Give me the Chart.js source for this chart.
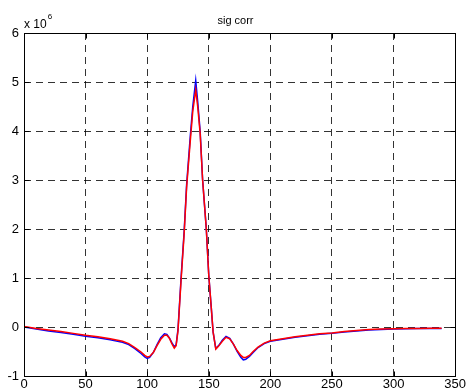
<!DOCTYPE html>
<html>
<head>
<meta charset="utf-8">
<script src="https://cdn.jsdelivr.net/npm/chart.js@4"></script>
<style>
  body { margin: 0; background: #fff; }
</style>
</head>
<body>
<canvas id="sigChart" width="467" height="390"></canvas>
<script>
// sample positions (lag) and the two correlation curves, in units of 1e6
const xValues = [0, 10, 20, 30, 40, 50, 60, 70, 80, 85, 90, 95, 98, 100, 102, 105, 108, 111, 114, 116, 118, 120, 122, 123.5,
  125, 127.5, 130, 132, 135, 137, 139.4, 141, 143, 145, 148, 150, 152, 153.5, 155.7, 158, 161, 164, 167, 170, 173, 176, 178,
  180, 183, 186, 190, 195, 200, 210, 220, 230, 240, 250, 260, 270, 280, 290, 300, 310, 320, 330, 339];
const blueValues = [0, -0.04, -0.08, -0.11, -0.15, -0.19, -0.22, -0.26, -0.31, -0.36, -0.44, -0.54, -0.61, -0.64, -0.62, -0.52, -0.36, -0.22, -0.14, -0.15, -0.22, -0.32, -0.40, -0.36,
  -0.05, 1.0, 1.95, 2.9, 3.9, 4.5, 5.03, 4.6, 4.0, 3.0, 2.0, 1.05, 0.4, -0.1, -0.44, -0.38, -0.27, -0.19, -0.23, -0.35, -0.5, -0.62, -0.67,
  -0.66, -0.6, -0.52, -0.42, -0.34, -0.29, -0.25, -0.21, -0.18, -0.15, -0.13, -0.10, -0.08, -0.06, -0.05, -0.04, -0.035, -0.03, -0.03, -0.03];
const redValues = [0.01, -0.03, -0.06, -0.09, -0.13, -0.17, -0.20, -0.24, -0.29, -0.34, -0.42, -0.51, -0.58, -0.61, -0.60, -0.52, -0.38, -0.25, -0.17, -0.17, -0.23, -0.34, -0.43, -0.38,
  -0.08, 0.95, 1.9, 2.85, 3.8, 4.4, 4.84, 4.5, 3.95, 3.0, 2.0, 1.05, 0.4, -0.1, -0.45, -0.39, -0.29, -0.21, -0.24, -0.35, -0.48, -0.58, -0.62,
  -0.62, -0.58, -0.5, -0.41, -0.33, -0.28, -0.24, -0.20, -0.17, -0.14, -0.12, -0.09, -0.07, -0.05, -0.04, -0.035, -0.03, -0.03, -0.025, -0.025];
const xTicks = [0, 50, 100, 150, 200, 250, 300, 350];
const yTicks = [-1, 0, 1, 2, 3, 4, 5, 6];

const fontFamily = 'Arial, "Liberation Sans", sans-serif';

function toPoints(ys) {
  return xValues.map((x, i) => ({ x: x, y: ys[i] }));
}

// box, inward ticks, title and the exponent label, matlab style
const matlabFrame = {
  id: 'matlabFrame',
  afterDraw(chart) {
    const { ctx, chartArea: a, scales } = chart;
    const l = Math.round(a.left) + 0.5, r = Math.round(a.right) + 0.5;
    const t = Math.round(a.top) + 0.5, b = Math.round(a.bottom) + 0.5;
    ctx.save();
    ctx.strokeStyle = '#000';
    ctx.lineWidth = 1;
    ctx.setLineDash([]);
    ctx.strokeRect(l, t, r - l, b - t);
    ctx.beginPath();
    xTicks.forEach(v => {
      const px = Math.round(scales.x.getPixelForValue(v)) + 0.5;
      ctx.moveTo(px, b); ctx.lineTo(px, b - 5);
      ctx.moveTo(px, t); ctx.lineTo(px, t + 5);
    });
    yTicks.forEach(v => {
      const py = Math.round(scales.y.getPixelForValue(v)) + 0.5;
      ctx.moveTo(l, py); ctx.lineTo(l + 5, py);
      ctx.moveTo(r, py); ctx.lineTo(r - 5, py);
    });
    ctx.stroke();

    ctx.fillStyle = '#000';
    ctx.textBaseline = 'alphabetic';
    ctx.font = '11px ' + fontFamily;
    ctx.textAlign = 'center';
    ctx.fillText('sig corr', chart.width / 2 + 2, 24);
    ctx.textAlign = 'left';
    ctx.font = '12px ' + fontFamily;
    ctx.fillText('x 10', 24, 28);
    const w = ctx.measureText('x 10').width;
    ctx.font = '8px ' + fontFamily;
    ctx.fillText('6', 24 + w + 1, 19);
    ctx.restore();
  }
};

const ctx = window.document.querySelector('#sigChart').getContext('2d');

new Chart(ctx, {
  type: 'line',
  data: {
    datasets: [{
      label: 'red',
      data: toPoints(redValues),
      borderColor: '#ff0000',
      borderWidth: 1.5,
      pointRadius: 0,
      tension: 0
    }, {
      label: 'blue',
      data: toPoints(blueValues),
      borderColor: '#0000ff',
      borderWidth: 1.5,
      pointRadius: 0,
      tension: 0
    }]
  },
  options: {
    responsive: false,
    animation: false,
    layout: {
      padding: { top: 33, right: 11, bottom: 0, left: 0 }
    },
    plugins: {
      legend: { display: false },
      tooltip: { enabled: false },
      title: { display: false }
    },
    scales: {
      x: {
        type: 'linear',
        min: 0,
        max: 350,
        afterFit(scale) { scale.height = 14; },
        afterBuildTicks(scale) { scale.ticks = xTicks.map(v => ({ value: v })); },
        ticks: { color: '#000', padding: 1, font: { family: fontFamily, size: 13 } },
        grid: { color: 'rgba(0,0,0,0.8)', lineWidth: 1, drawTicks: false },
        border: { display: false, dash: [7, 5] }
      },
      y: {
        min: -1,
        max: 6,
        afterFit(scale) { scale.width = 24; },
        afterBuildTicks(scale) { scale.ticks = yTicks.map(v => ({ value: v })); },
        ticks: { color: '#000', padding: 5, font: { family: fontFamily, size: 13 } },
        grid: { color: 'rgba(0,0,0,0.8)', lineWidth: 1, drawTicks: false },
        border: { display: false, dash: [7, 5] }
      }
    }
  },
  plugins: [matlabFrame]
});
</script>
</body>
</html>
